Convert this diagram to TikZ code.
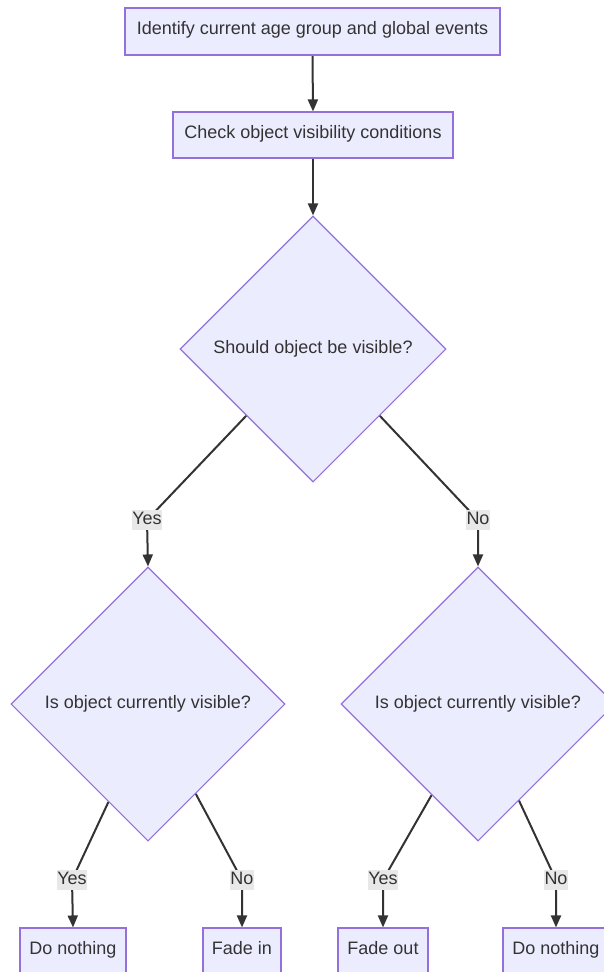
\documentclass[tikz,border=0pt]{standalone}
\usepackage{fontspec}
\setmainfont{Liberation Sans}
\usetikzlibrary{shapes.geometric,arrows.meta}
\definecolor{nodefill}{HTML}{ECECFF}
\definecolor{nodeline}{HTML}{9370DB}
\definecolor{ink}{HTML}{333333}
\definecolor{labelbg}{HTML}{E8E8E8}
\pgfdeclarelayer{edges}
\pgfsetlayers{edges,main}
\begin{document}
\begin{tikzpicture}[x=1pt,y=-1pt,
  font=\fontsize{18}{22}\selectfont,
  procbox/.style={draw=nodeline,fill=nodefill,line width=1.1pt,text=ink,
    rectangle,inner sep=0pt,text height=13pt,text depth=7pt},
  decision/.style={draw=nodeline,fill=nodefill,line width=1.1pt,text=ink,
    diamond,aspect=1,inner sep=0pt},
  edgelabel/.style={fill=labelbg,text=ink,inner xsep=0.5pt,inner ysep=1.5pt,
    text height=13pt,text depth=4pt},
  flow/.style={draw=ink,line width=2pt,-{Triangle[length=12pt,width=10pt]}}]
\useasboundingbox (0,0) rectangle (604,972);

% process steps
\node[procbox,minimum width=375pt,minimum height=47pt] (ident) at (312.5,31.5)
  {Identify current age group and global events};
\node[procbox,minimum width=280pt,minimum height=46pt] (check) at (313,135)
  {Check object visibility conditions};

% decisions
\node[decision,minimum size=266pt] (should) at (313,349) {Should object be visible?};
\node[decision,minimum size=274pt] (visL) at (148,704) {Is object currently visible?};
\node[decision,minimum size=274pt] (visR) at (478,704) {Is object currently visible?};

% outcomes
\node[procbox,minimum width=106pt,minimum height=47pt] (noneL) at (73,951.5) {Do nothing};
\node[procbox,minimum width=78pt,minimum height=47pt] (fadein) at (242,951.5) {Fade in};
\node[procbox,minimum width=90pt,minimum height=47pt] (fadeout) at (383,951.5) {Fade out};
\node[procbox,minimum width=106pt,minimum height=47pt] (noneR) at (556,951.5) {Do nothing};

% branch labels
\node[edgelabel] (yesA) at (147,520) {Yes};
\node[edgelabel] (noA) at (478,520) {No};
\node[edgelabel] (yesB) at (72,880) {Yes};
\node[edgelabel] (noB) at (242,880) {No};
\node[edgelabel] (yesC) at (383,880) {Yes};
\node[edgelabel] (noC) at (556,880) {No};

% connectors, kept behind the shapes and labels
\begin{pgfonlayer}{edges}
\draw[flow] (ident.south) -- (check.north);
\draw[flow] (check.south) -- (should.north);
\draw[flow] (should.south west) -- (yesA.center) -- (visL.north);
\draw[flow] (should.south east) -- (noA.center) -- (visR.north);
\draw[flow] (visL.-112) -- (yesB.center) -- (noneL.north);
\draw[flow] (visL.-62) -- (noB.center) -- (fadein.north);
\draw[flow] (visR.-117) -- (yesC.center) -- (fadeout.north);
\draw[flow] (visR.-67) -- (noC.center) -- (noneR.north);
\end{pgfonlayer}
\end{tikzpicture}
\end{document}
